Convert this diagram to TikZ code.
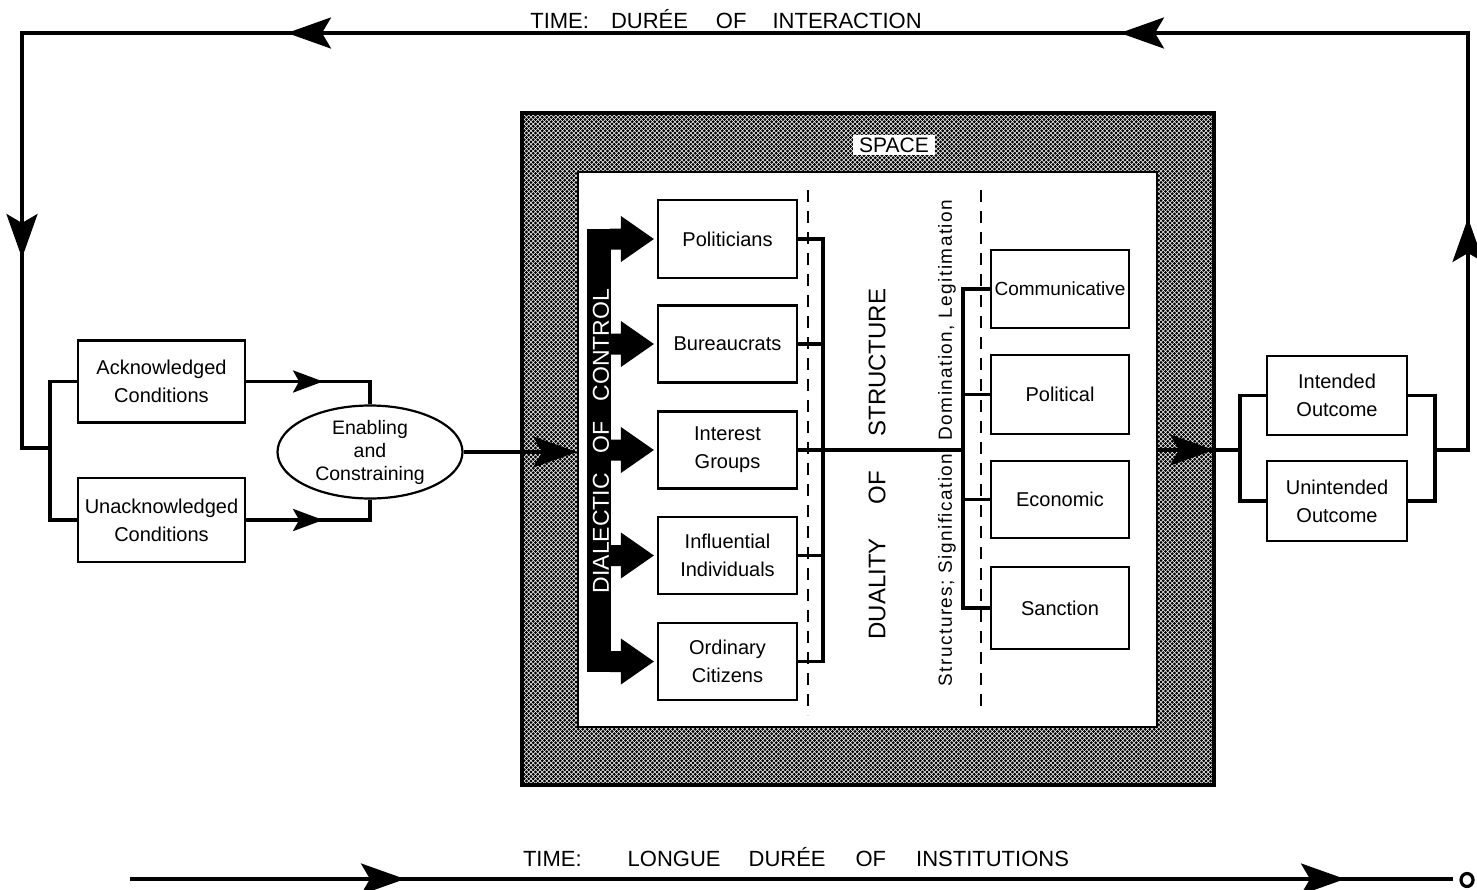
\documentclass[tikz,border=0pt]{standalone}
\usepackage{fontspec}
\setmainfont{Liberation Sans}
\usetikzlibrary{arrows.meta,shapes.geometric,decorations.markings,calc,patterns}
\pgfdeclarepatternformonly{stipple}{\pgfpoint{-1.8pt}{-1.8pt}}{\pgfpoint{6.3pt}{6.3pt}}{\pgfpoint{4.5pt}{4.5pt}}{%
  \pgfpathcircle{\pgfpoint{0pt}{0pt}}{1.6pt}%
  \pgfpathcircle{\pgfpoint{2.25pt}{2.25pt}}{1.6pt}%
  \pgfusepath{fill}}
\newcommand\bxfont{\fontsize{20}{28}\selectfont}
\begin{document}
\begin{tikzpicture}[x=1pt,y=-1pt,
  conn/.style={line width=3.4pt},
  box/.style={draw, line width=2.2pt, align=center, font=\bxfont, inner sep=0pt},
  actor/.style={box, minimum width=139pt, minimum height=77pt},
  struct/.style={box, minimum width=138pt, minimum height=78pt},
  outc/.style={box, minimum width=140pt, minimum height=79pt},
  cond/.style={box, minimum width=167pt, minimum height=82pt},
  dashsep/.style={line width=1.9pt, dash pattern=on 12pt off 9pt},
  bigtip/.tip={Stealth[length=44pt,width=31pt,inset=9pt]},
  smalltip/.tip={Stealth[length=30pt,width=22pt,inset=6pt]},
  arrowat/.style={postaction={decorate,decoration={markings,mark=at position #1 with {\arrow{bigtip}}}}},
  sarrowat/.style={postaction={decorate,decoration={markings,mark=at position #1 with {\arrow{smalltip}}}}},
  title/.style={font=\fontsize{22}{26}\selectfont, anchor=base, inner sep=0pt},
  ctrlarrow/.style={fill=black}
]
\useasboundingbox (0,0) rectangle (1477,889);

% ---------- Space boxes ----------
\node[draw, line width=3.6pt, pattern=stipple, minimum width=692pt, minimum height=672pt, inner sep=0pt] (space) at (868,449) {};
\node[draw, fill=white, line width=1.8pt, minimum width=579pt, minimum height=555pt, inner sep=0pt] (inner) at (867.5,449.5) {};
\node[fill=white, font=\fontsize{21}{24}\selectfont, inner xsep=6pt, inner ysep=3pt] (spacelbl) at (894,145) {SPACE};

% ---------- Titles ----------
\node[title] (ttop) at (726,28) {TIME:\hspace{22pt}DURÉE\hspace{28pt}OF\hspace{26pt}INTERACTION};
\node[title] (tbot) at (796,866) {TIME:\hspace{46pt}LONGUE\hspace{28pt}DURÉE\hspace{30pt}OF\hspace{30pt}INSTITUTIONS};

% ---------- Conditions ----------
\node[cond] (ack) at (161.5,381.5) {Acknowledged\\Conditions};
\node[cond, minimum height=84pt] (unk) at (161.5,520) {Unacknowledged\\Conditions};
\node[draw, ellipse, line width=2.2pt, minimum width=185pt, minimum height=93pt, inner sep=0pt, align=center,
      font=\fontsize{19.5}{23}\selectfont] (ell) at (370,452) {Enabling\\and\\Constraining};

% ---------- Actors ----------
\node[actor, minimum height=78pt] (pol) at (727.5,239) {Politicians};
\node[actor] (bur) at (727.5,344) {Bureaucrats};
\node[actor] (int) at (727.5,450) {Interest\\Groups};
\node[actor] (inf) at (727.5,555.5) {Influential\\Individuals};
\node[actor] (ord) at (727.5,661.5) {Ordinary\\Citizens};

% ---------- Structures ----------
\node[struct, font=\fontsize{19}{28}\selectfont] (com) at (1060,289) {Communicative};
\node[struct, minimum height=79pt] (pli) at (1060,394.5) {Political};
\node[struct, minimum height=77pt] (eco) at (1060,499.5) {Economic};
\node[struct, minimum height=82pt] (san) at (1060,608) {Sanction};

% ---------- Outcomes ----------
\node[outc] (ino) at (1337,395.5) {Intended\\Outcome};
\node[outc, minimum height=80pt] (uno) at (1337,501) {Unintended\\Outcome};

% ---------- Dialectic of control ----------
\fill ($(pol.west)+(-70,-10.5)$) rectangle ($(ord.west)+(-46,10.5)$);
\foreach \n in {pol,bur,int,inf,ord}{
  \fill[ctrlarrow] ($(\n.west)+(-47,-10.5)$) -- ($(\n.west)+(-36,-10.5)$) -- ($(\n.west)+(-36,-23)$)
     -- ($(\n.west)+(-3,0)$) -- ($(\n.west)+(-36,23)$) -- ($(\n.west)+(-36,10.5)$) -- ($(\n.west)+(-47,10.5)$) -- cycle;
}
\node[rotate=90, text=white, font=\fontsize{23}{26}\selectfont, inner sep=0pt] (dial) at (601,441)
  {DIALECTIC\hspace{20pt}OF\hspace{20pt}CONTROL};

% ---------- Rotated labels ----------
\node[rotate=90, font=\fontsize{24}{28}\selectfont, inner sep=0pt] (dual) at (877,464)
  {DUALITY\hspace{34pt}OF\hspace{34pt}STRUCTURE};
\node[rotate=90, font=\fontsize{19}{22}\selectfont\addfontfeature{LetterSpace=7.5}, inner sep=0pt] (strl) at (947,443)
  {Structures; Signification, Domination, Legitimation};

% ---------- Dashed separators ----------
\coordinate (d1t) at (808,190); \coordinate (d1b) at (808,715);
\coordinate (d2t) at (981,190); \coordinate (d2b) at (981,712);
\draw[dashsep] (d1t) -- (d1b);
\draw[dashsep] (d2t) -- (d2b);

% ---------- Actor bracket ----------
\coordinate (bx) at (823,0);
\coordinate (sx) at (963,0);
\draw[conn] (pol.east) -- (pol.east -| bx) -- (ord.east -| bx) -- (ord.east);
\draw[conn] (bur.east) -- (bur.east -| bx);
\draw[conn] (inf.east) -- (inf.east -| bx);
\draw[conn] (int.east) -- (int.east -| sx);

% ---------- Structure bracket ----------
\draw[conn] (com.west) -- (com.west -| sx) -- (san.west -| sx) -- (san.west);
\draw[conn] (pli.west) -- (pli.west -| sx);
\draw[conn] (eco.west) -- (eco.west -| sx);

% ---------- Left side ----------
\coordinate (lbx) at (50,0);
\draw[conn] (ack.west) -- (ack.west -| lbx) -- (unk.west -| lbx) -- (unk.west);
\draw[conn, sarrowat=77pt] (ack.east) -- (ack.east -| ell.north) -- (ell.north);
\draw[conn, sarrowat=77pt] (unk.east) -- (unk.east -| ell.south) -- (ell.south);
\draw[conn, -{bigtip}] (ell.east) -- (ell.east -| inner.west);

% ---------- Right side ----------
\coordinate (obl) at (1240,450);
\coordinate (obr) at (1435,450);
\draw[conn, arrowat=56pt] (inner.east |- obl) -- (obl);
\draw[conn] (ino.west) -- (ino.west -| obl) -- (uno.west -| obl) -- (uno.west);
\draw[conn] (ino.east) -- (ino.east -| obr) -- (uno.east -| obr) -- (uno.east);

% ---------- Feedback loop ----------
\coordinate (rc) at (1468,450);
\coordinate (rt) at (1468,33);
\coordinate (lt) at (22,33);
\coordinate (lc) at (22,448);
\coordinate (lcb) at (50,448);
\draw[conn, arrowat=265pt, arrowat=798pt, arrowat=1631pt, arrowat=2121pt]
  (obr) -- (rc) -- (rt) -- (lt) -- (lc) -- (lcb);

% ---------- Long duree timeline ----------
\coordinate (tls) at (130,879);
\coordinate (tle) at (1453,879);
\node[ellipse, draw, line width=3.2pt, minimum width=12pt, minimum height=13pt, inner sep=0pt] (tlo) at (1467,880) {};
\draw[conn, arrowat=275pt, arrowat=1215pt] (tls) -- (tle);
\end{tikzpicture}
\end{document}
